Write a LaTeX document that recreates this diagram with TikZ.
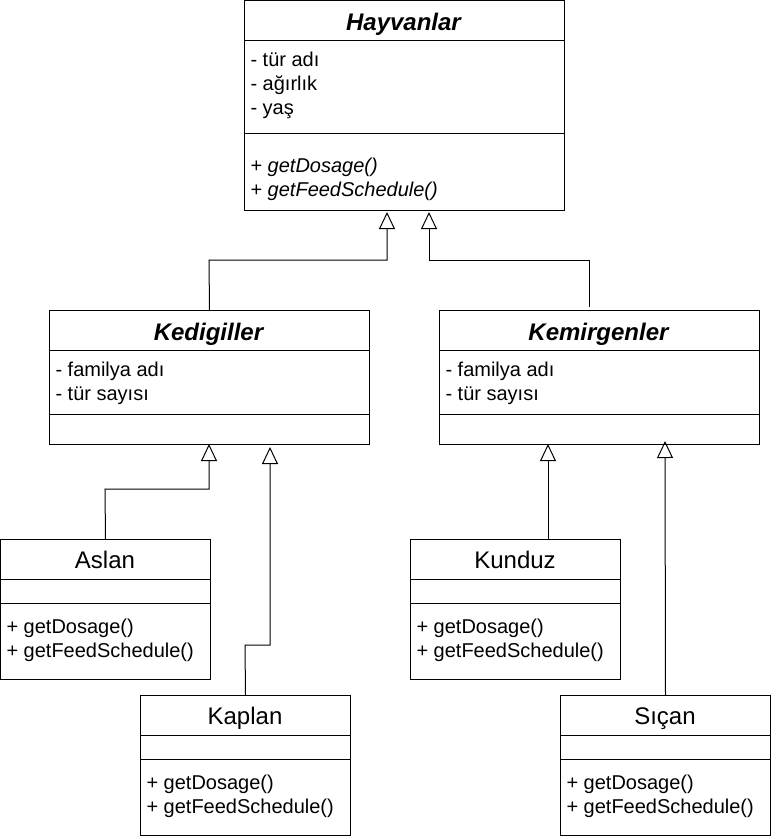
\documentclass[tikz,border=0pt]{standalone}
\usepackage{fontspec}
\setmainfont{Liberation Sans}
\usetikzlibrary{arrows.meta,positioning}

\begin{document}
\begin{tikzpicture}
		[x=1pt,y=-1pt,line width=1pt,
		classbox/.style={draw,anchor=north west,inner sep=0pt},
		big/.style={classbox,minimum width=320pt},
		small/.style={classbox,minimum width=210pt,minimum height=140pt},
		title/.style={font=\fontsize{24}{28}\selectfont,anchor=base,inner sep=0pt},
		member/.style={font=\fontsize{20}{24}\selectfont,anchor=base west,align=left,inner sep=0pt},
		gen/.style={-{Triangle[open,length=17pt,width=16pt]}}]
		\useasboundingbox (0,0) rectangle (779,839);
		
		% ust sinif
		\node[big,minimum height=210pt] (hayvan) at (244,0) {};
		\draw (hayvan.north west) ++(0,40) -- ++(320,0);
		\draw (hayvan.north west) ++(0,133) -- ++(320,0);
		\node[title] (hayvanT) at (404,30) {\textbf{\textit{Hayvanlar}}};
		\node[member] (hayvanA) at (250,114) {- tür adı\\- ağırlık\\- yaş};
		\node[member] (hayvanM) at (250,196) {+ \textit{getDosage()}\\+ \textit{getFeedSchedule()}};
		
		% ara siniflar
		\node[big,minimum height=134pt] (kedi) at (49,310) {};
		\draw (kedi.north west) ++(0,40) -- ++(320,0);
		\draw (kedi.north west) ++(0,104) -- ++(320,0);
		\node[title] (kediT) at (209,340) {\textbf{\textit{Kedigiller}}};
		\node[member] (kediA) at (55,400) {- familya adı\\- tür sayısı};
		
		\node[big,minimum height=134pt] (kemir) at (439,310) {};
		\draw (kemir.north west) ++(0,40) -- ++(320,0);
		\draw (kemir.north west) ++(0,104) -- ++(320,0);
		\node[title] (kemirT) at (599,340) {\textbf{\textit{Kemirgenler}}};
		\node[member] (kemirA) at (445,400) {- familya adı\\- tür sayısı};
		
		% alt siniflar
		\node[small] (aslan) at (0,539) {};
		\draw (aslan.north west) ++(0,40) -- ++(210,0);
		\draw (aslan.north west) ++(0,64) -- ++(210,0);
		\node[title] (aslanT) at (105,568) {Aslan};
		\node[member] (aslanM) at (6,657) {+ getDosage()\\+ getFeedSchedule()};
		
		\node[small] (kaplan) at (140,695) {};
		\draw (kaplan.north west) ++(0,40) -- ++(210,0);
		\draw (kaplan.north west) ++(0,64) -- ++(210,0);
		\node[title] (kaplanT) at (245,724) {Kaplan};
		\node[member] (kaplanM) at (146,813) {+ getDosage()\\+ getFeedSchedule()};
		
		\node[small] (kunduz) at (410,539) {};
		\draw (kunduz.north west) ++(0,40) -- ++(210,0);
		\draw (kunduz.north west) ++(0,64) -- ++(210,0);
		\node[title] (kunduzT) at (515,568) {Kunduz};
		\node[member] (kunduzM) at (416,657) {+ getDosage()\\+ getFeedSchedule()};
		
		\node[small] (sican) at (560,695) {};
		\draw (sican.north west) ++(0,40) -- ++(210,0);
		\draw (sican.north west) ++(0,64) -- ++(210,0);
		\node[title] (sicanT) at (665,724) {Sıçan};
		\node[member] (sicanM) at (566,813) {+ getDosage()\\+ getFeedSchedule()};
		
		% kalitim oklari
		\coordinate (h1) at (387,212);
		\coordinate (h2) at (429,212);
		\coordinate (k0) at (589,307);
		\coordinate (kd1) at (209,444);
		\coordinate (kd2) at (270,447);
		\coordinate (km1) at (548,444);
		\coordinate (km2) at (665,441);
		
		\draw[gen] (kedi.north) -- (209,260) -| (h1);
		\draw[gen] (k0) -- (589,260) -| (h2);
		\draw[gen] (aslan.north) -- (105,489) -| (kd1);
		\draw[gen] (kaplan.north) -- (245,645) -| (kd2);
		\draw[gen] (km1 |- kunduz.north) -- (km1);
		\draw[gen] (sican.north) -- (km2);
		\end{tikzpicture}
\end{document}
